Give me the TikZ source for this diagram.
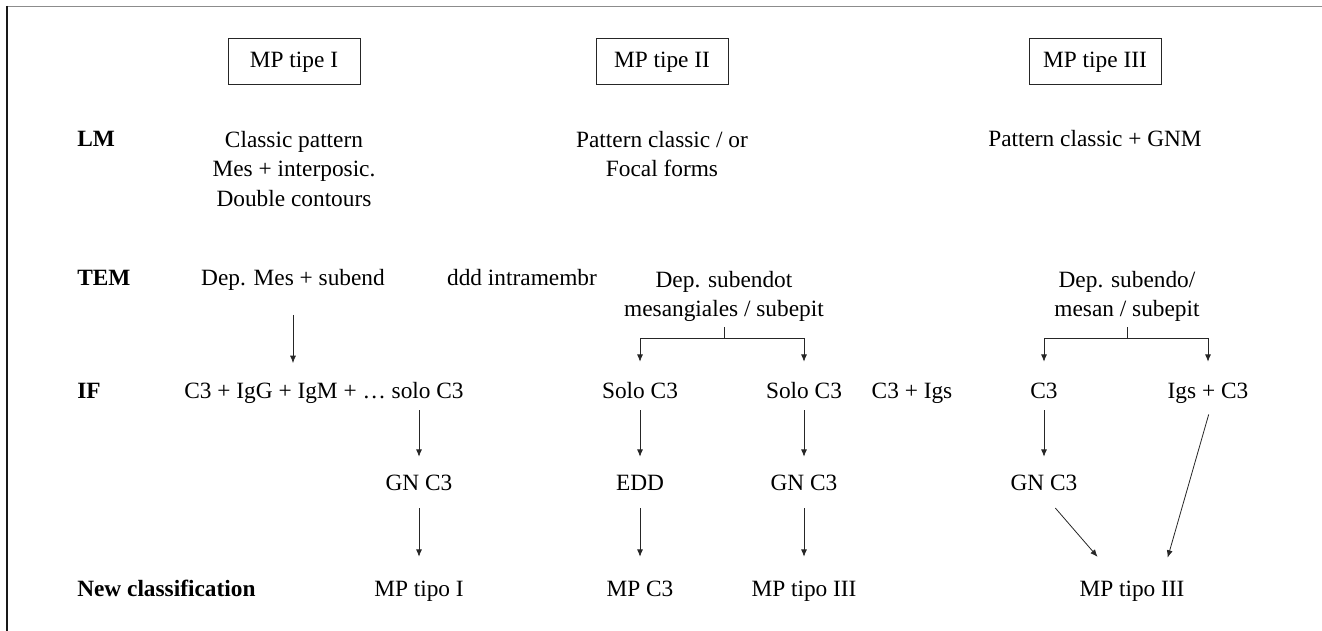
\documentclass[tikz,border=0pt]{standalone}
\usepackage{fontspec}
\setmainfont{Liberation Serif}
\usetikzlibrary{positioning}
\usetikzlibrary{calc}
\usetikzlibrary{arrows.meta}

\tikzset{ % styles for the classification chart
  txt/.style={font=\fontsize{17.5pt}{22pt}\selectfont, inner sep=0pt,
    text height=12pt, text depth=3.5pt, anchor=base},
  multi/.style={font=\fontsize{17.5pt}{22pt}\selectfont, inner sep=0pt,
    align=center, anchor=north},
  rowlab/.style={txt, font=\fontsize{17.5pt}{22pt}\selectfont\bfseries, anchor=base west},
  tipo/.style={txt, anchor=center, draw=black!85, line width=0.75pt,
    minimum width=99pt, minimum height=34.5pt},
  link/.style={line width=0.6pt, draw=black!85},
  arr/.style={link, -{Latex[length=5.5pt,width=4.5pt]}}
}

\begin{document}
\begin{tikzpicture}[x=0.75pt,y=-0.75pt] % pixel grid, y down
\useasboundingbox (0,0) rectangle (1322,631);
% frame (only top and left edges show)
\draw[black!45, line width=1.3pt] (7,6.5) -- (1322,6.5);
\draw[black!90, line width=1.1pt] (7,6) -- (7,631);

% headers
\node[tipo] (t1) at (294,62) {MP tipe I};
\node[tipo] (t2) at (662,62) {MP tipe II};
\node[tipo] (t3) at (1095,62) {MP tipe III};

% row labels
\node[rowlab] (lmlab) at (77,147) {LM};
\node[rowlab] (temlab) at (77,286) {TEM};
\node[rowlab] (iflab) at (77,398) {IF};
\node[rowlab] (newlab) at (77,596) {New classification};

% LM
\node[multi] (lm1) at (294,131) {Classic pattern\\Mes + interposic.\\Double contours};
\node[multi] (lm2) at (662,131) {Pattern classic / or\\Focal forms};
\node[txt] (lm3) at (1095,147) {Pattern classic + GNM};

% TEM
\node[txt] (tem1) at (293,286) {Dep. Mes + subend};
\node[txt] (tem0) at (522,286) {ddd intramembr};
\node[multi] (tem2) at (724,271) {Dep. subendot\\mesangiales / subepit};
\node[multi] (tem3) at (1127,271) {Dep. subendo/\\mesan / subepit};

% IF
\node[txt] (if1) at (324,398) {C3 + IgG + IgM + … solo C3};
\node[txt] (sc1) at (640,398) {Solo C3};
\node[txt] (sc2) at (804,398) {Solo C3};
\node[txt] (ci) at (912,398) {C3 + Igs};
\node[txt] (c3) at (1044,398) {C3};
\node[txt] (igs) at (1208,398) {Igs + C3};

% GN
\node[txt] (gn1) at (419,490) {GN C3};
\node[txt] (edd) at (640,490) {EDD};
\node[txt] (gn2) at (804,490) {GN C3};
\node[txt] (gn3) at (1044,490) {GN C3};

% new classification
\node[txt] (mp1) at (419,596) {MP tipo I};
\node[txt] (mpc) at (640,596) {MP C3};
\node[txt] (mp2) at (804,596) {MP tipo III};
\node[txt] (mp3) at (1132,596) {MP tipo III};

% arrows
\draw[arr, shorten <=18pt, shorten >=14pt] (tem1.south) -- (tem1.south |- if1.north);
\draw[arr, shorten <=5.5pt, shorten >=12.75pt] (gn1 |- if1.south) -- (gn1.north);
\foreach \a/\b in {sc1/edd, sc2/gn2, c3/gn3}
  \draw[arr, shorten <=5.5pt, shorten >=12.75pt] (\a.south) -- (\b.north);
\foreach \a/\b in {gn1/mp1, edd/mpc, gn2/mp2}
  \draw[arr, shorten <=10pt, shorten >=17.25pt] (\a.south) -- (\b.north);
\draw[arr, shorten <=13pt, shorten >=22.7pt] (gn3.south) -- ([xshift=-11pt]mp3.north);
\draw[arr, shorten <=9pt, shorten >=17.25pt] ([xshift=3pt]igs.south) -- ([xshift=22pt]mp3.north);

% branches
\draw[link] ([yshift=-4pt]tem2.south) -- ++(0,11) coordinate (j2);
\draw[arr, shorten >=15pt] (j2) -| (sc1.north);
\draw[arr, shorten >=15pt] (j2) -| (sc2.north);
\draw[link] ([yshift=-4pt]tem3.south) -- ++(0,11) coordinate (j3);
\draw[arr, shorten >=15pt] (j3) -| (c3.north);
\draw[arr, shorten >=15pt] (j3) -| (igs.north);
\end{tikzpicture}
\end{document}
